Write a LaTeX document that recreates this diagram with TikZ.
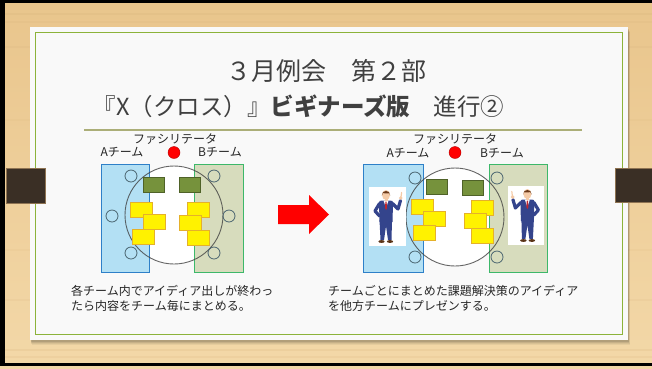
\documentclass[tikz,border=0pt]{standalone}
\usepackage{fontspec}
\setmainfont{Noto Sans CJK JP}
\definecolor{woodA}{HTML}{E9C58C}
\definecolor{woodB}{HTML}{F3D8A8}
\definecolor{grain}{HTML}{D9B47C}
\definecolor{paper}{HTML}{F9F9F9}
\definecolor{frameGreen}{HTML}{8CB33A}
\definecolor{ruleOlive}{HTML}{ABAE78}
\definecolor{tabDark}{HTML}{3A2F25}
\definecolor{tabEdge}{HTML}{8E7352}
\definecolor{teamAfill}{HTML}{B3E0F4}
\definecolor{teamAline}{HTML}{2E80C8}
\definecolor{teamBfill}{HTML}{D7DCBD}
\definecolor{teamBline}{HTML}{3DB86A}
\definecolor{oliveCard}{HTML}{76923C}
\definecolor{oliveEdge}{HTML}{4F6228}
\definecolor{stickyEdge}{HTML}{E5B12A}
\definecolor{seatLine}{HTML}{4A6470}
\definecolor{textGray}{HTML}{262626}
\definecolor{titleGray}{HTML}{404040}
\definecolor{suit}{HTML}{34448C}
\definecolor{hair}{HTML}{6B3A1A}
\definecolor{skin}{HTML}{F5CBA7}
\definecolor{shoe}{HTML}{5A3418}
\definecolor{tieRed}{HTML}{C0262D}

\tikzset{
  teamA/.style={rectangle, draw=teamAline, fill=teamAfill, line width=1pt, anchor=north west, inner sep=0},
  teamB/.style={rectangle, draw=teamBline, fill=teamBfill, line width=1pt, anchor=north west, inner sep=0},
  tablebox/.style={circle, fill=white, inner sep=0, minimum size=98pt},
  tableedge/.style={circle, draw=black!75, line width=0.9pt, inner sep=0, minimum size=98pt},
  seat/.style={circle, draw=seatLine, line width=0.8pt, inner sep=0, minimum size=12pt},
  card/.style={rectangle, draw=oliveEdge, fill=oliveCard, line width=0.6pt, anchor=north west, inner sep=0, minimum width=21pt, minimum height=14.5pt},
  sticky/.style={rectangle, draw=stickyEdge, fill=yellow, line width=0.8pt, anchor=north west, inner sep=0, minimum width=21.5pt, minimum height=15pt},
  facil/.style={circle, fill=red, draw=red!70!black, line width=0.4pt, inner sep=0, minimum size=12pt},
  lbl/.style={font=\fontsize{12}{14}\selectfont, text=textGray, inner sep=0},
  note/.style={font=\fontsize{12}{15}\selectfont, text=textGray, inner sep=0, align=left, anchor=north west},
  photo/.style={rectangle, fill=white, anchor=north west, inner sep=0},
  tab/.style={fill=tabDark, draw=tabEdge, line width=0.6pt},
  person/.pic={
    % trousers
    \fill[suit] (10.5,33) -- (23,33) -- (22.5,53) -- (19,53) -- (17,39) -- (15,53) -- (11.5,53) -- cycle;
    % shoes
    \fill[shoe] (12.5,54.5) ellipse [x radius=3.2, y radius=1.4];
    \fill[shoe] (21,54.5) ellipse [x radius=3.2, y radius=1.4];
    % jacket
    \fill[suit] (10,15.5) .. controls (10,14) and (11,13.5) .. (13,13.5) -- (21,13.5)
      .. controls (23,13.5) and (24,14) .. (24,15.5) -- (23.5,35) -- (10.5,35) -- cycle;
    % shirt and tie
    \fill[white] (14.5,13.5) -- (19.5,13.5) -- (17,21) -- cycle;
    \fill[tieRed] (16.4,14.5) -- (17.6,14.5) -- (18,21) -- (17,23) -- (16,21) -- cycle;
    % arm on the hip
    \draw[suit, line width=3.2pt, line cap=round, line join=round] (10.5,16.5) -- (6,24) -- (10.5,29);
    % raised arm
    \draw[suit, line width=3.2pt, line cap=round, line join=round] (23.5,16.5) -- (29,22) -- (31.5,13.5);
    \fill[skin] (31.8,11) circle [radius=1.9];
    \draw[skin, line width=1.2pt, line cap=round] (32,10) -- (32.6,5.5);
    % neck and head
    \fill[skin] (15.5,10) rectangle (18.5,14);
    \fill[skin] (17,8) ellipse [x radius=4, y radius=5];
    \fill[hair] (12.8,8.5) .. controls (12.3,2.5) and (21.7,2.5) .. (21.2,8.5)
      -- (20.4,6.4) -- (14,6.2) -- cycle;
  }
}

\begin{document}
\begin{tikzpicture}[x=1pt, y=-1pt]
\useasboundingbox (0,0) rectangle (652,368);

% wooden board
\shade[top color=woodA, bottom color=woodB] (0,0) rectangle (652,368);
\foreach \gy/\go in {14/0.25, 22/0.18, 47/0.2, 120/0.12, 190/0.15, 250/0.12, 300/0.15, 350/0.22, 357/0.18}
  \draw[grain, opacity=\go, line width=1.5pt] (0,\gy) -- (652,\gy);

% black edges
\fill[black] (0,0) rectangle (652,2.5);
\fill[black] (0,0) rectangle (4.5,366);
\fill[black] (0,363) rectangle (652,366);

% paper sheet with a soft shadow
\foreach \d/\o in {5/0.05, 4/0.06, 3/0.08, 2/0.1}
  \fill[black, opacity=\o] (30+\d*0.3,27+\d) rectangle (628+\d*0.4,340+\d);
\fill[paper] (30,27) rectangle (628,340);
\draw[frameGreen, line width=1.4pt] (35.5,32.5) rectangle (622.5,334.5);

% hanging tabs
\fill[tab] (6,168) rectangle (45,203);
\fill[tab] (615,168) rectangle (652,202);

% title
\node[font=\fontsize{25}{28}\selectfont, text=titleGray, inner sep=0] (t1) at (326,71) {３月例会　第２部};
\node[font=\fontsize{23.5}{28}\selectfont, text=titleGray, inner sep=0] (t2) at (298.5,106)
  {『X（クロス）』{\bfseries ビギナーズ版}　進行②};
\coordinate (ruleL) at (84,130);
\coordinate (ruleR) at (582,130);
\draw[ruleOlive, line width=1.3pt] (ruleL) -- (ruleR);

% ---------- discussion inside the teams ----------
\node[tablebox] (tabL) at (174,215) {};
\node[teamA, minimum width=48pt, minimum height=108pt] (teamAL) at (101,164) {};
\node[teamB, minimum width=49pt, minimum height=108pt] (teamBL) at (194,164) {};
\node[tableedge, draw opacity=0.8] (tabLe) at (tabL.center) {};
\foreach \n/\px/\py in {a1/131/176, a2/112/216, a3/131/253, b1/214/176, b2/229/216, b3/214/253}
  \node[seat] (seatL\n) at (\px,\py) {};
\node[card] (cardLa) at (143,177) {};
\node[card] (cardLb) at (179,177) {};
\node[sticky] (stLa1) at (130,202) {};
\node[sticky] (stLa2) at (143,214) {};
\node[sticky] (stLa3) at (132,228.5) {};
\node[sticky] (stLb1) at (187,202) {};
\node[sticky] (stLb2) at (179,215) {};
\node[sticky] (stLb3) at (187,230) {};
\node[lbl] (facL) at (175,139) {ファシリテータ};
\node[lbl] (nameAL) at (122,152) {Aチーム};
\node[facil] (dotL) at (174,152.5) {};
\node[lbl] (nameBL) at (220,152) {Bチーム};
\node[note] (noteL) at (71,285) {各チーム内でアイディア出しが終わっ\\たら内容をチーム毎にまとめる。};

% arrow between the two steps
\fill[red] (278,205) -- (309,205) -- (309,195) -- (329,214.5) -- (309,234) -- (309,224) -- (278,224) -- cycle;

% ---------- presentation to the other team ----------
\node[tablebox] (tabR) at (455,217) {};
\node[teamA, minimum width=60pt, minimum height=108pt] (teamAR) at (363,164) {};
\node[teamB, minimum width=58pt, minimum height=108pt] (teamBR) at (489,164) {};
\node[tableedge, draw opacity=0.8] (tabRe) at (tabR.center) {};
\foreach \n/\px/\py in {a1/415/178, a3/415/257, b1/497/178, b3/497/257}
  \node[seat] (seatR\n) at (\px,\py) {};
\node[card] (cardRa) at (426,179) {};
\node[card] (cardRb) at (462,180) {};
\node[sticky] (stRa1) at (411,199) {};
\node[sticky] (stRa2) at (423,211) {};
\node[sticky] (stRa3) at (413,224.5) {};
\node[sticky] (stRb1) at (471,200) {};
\node[sticky] (stRb2) at (464,213) {};
\node[sticky] (stRb3) at (471,228) {};
\node[photo, minimum width=37pt, minimum height=59pt] (presA) at (369,187) {};
\node[photo, minimum width=36pt, minimum height=59pt] (presB) at (508,186) {};
\pic at (presA.north west) {person};
\pic[xscale=-1] at (presB.north east) {person};
\node[lbl] (facR) at (455,139) {ファシリテータ};
\node[lbl] (nameAR) at (408,153) {Aチーム};
\node[facil] (dotR) at (455,152.5) {};
\node[lbl] (nameBR) at (502,153) {Bチーム};
\node[note] (noteR) at (328,285) {チームごとにまとめた課題解決策のアイディア\\を他方チームにプレゼンする。};
\end{tikzpicture}
\end{document}
